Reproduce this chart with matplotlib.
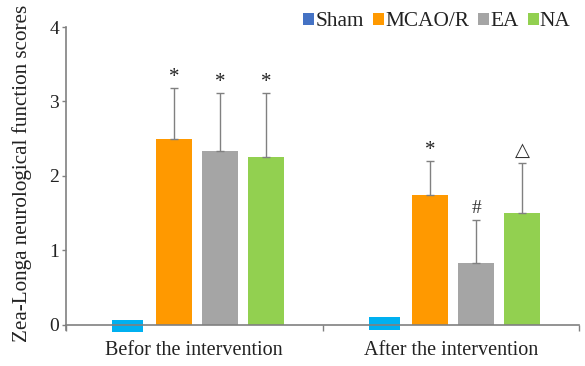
import numpy as np
import matplotlib
matplotlib.use("Agg")
import matplotlib.pyplot as plt
from matplotlib.patches import Patch

plt.rcParams['font.family'] = ['Liberation Serif', 'DejaVu Sans']

# data
groups = ["Befor the intervention", "After the intervention"]
series = ["Sham", "MCAO/R", "EA", "NA"]
sham = [-0.015, 0.015]
mcao = [2.50, 1.75]
ea = [2.33, 0.83]
na = [2.25, 1.50]
mcao_err = [0.68, 0.45]
ea_err = [0.78, 0.58]
na_err = [0.86, 0.68]
marks = [["*", "*", "*"], ["*", "#", "\u25b3"]]

bar_colors = ["#00B0F0", "#FF9900", "#A5A5A5", "#92D050"]
legend_colors = ["#4472C4", "#FF9900", "#A5A5A5", "#92D050"]
err_color = "#808080"
txt = "#222222"

fig = plt.figure(figsize=(5.85, 3.66), dpi=100)
ax = fig.add_axes([66 / 585, 1 - 336 / 366, 513 / 585, 309 / 366])

centers = np.array([1, 3]) + 0.02
pitch = 0.359
w = 0.281

# sham: zero scores shown as a thin block around the axis
ax.bar(centers - 1.5 * pitch, 0.17, width=0.24, bottom=np.array(sham) - 0.085,
       color=bar_colors[0], zorder=2)

vals = [mcao, ea, na]
errs = [mcao_err, ea_err, na_err]
for i, (v, e) in enumerate(zip(vals, errs)):
    x = centers + (i - 0.5) * pitch
    ax.bar(x, v, width=w, color=bar_colors[i + 1], zorder=2)
    ax.errorbar(x, v, yerr=[np.zeros(2), e], fmt="none", ecolor=err_color,
                elinewidth=1, capsize=3, capthick=1, zorder=3)
    for g in range(2):
        m = marks[g][i]
        top = v[g] + e[g]
        if m == "*":
            ax.annotate(m, (x[g], top), xytext=(0, 1), textcoords="offset points",
                        ha="center", va="bottom", fontsize=15, color=txt)
        else:
            ax.annotate(m, (x[g], top), xytext=(0, 2), textcoords="offset points",
                        ha="center", va="bottom", fontsize=14, color="#333333")

ax.set_xlim(0, 4)
ax.set_ylim(-0.15, 4)
ax.set_yticks([0, 1, 2, 3, 4])
ax.set_xticks([1, 3])
ax.set_xticklabels(groups)
ax.set_xticks([0, 1, 2, 3, 4], minor=True)
ax.tick_params(axis="x", which="major", length=0, pad=12, labelsize=14.5, labelcolor=txt)
ax.tick_params(axis="x", which="minor", length=4, color=err_color, width=1)
ax.tick_params(axis="y", length=3, color=err_color, width=1, pad=2,
               labelsize=14, labelcolor=txt)

for s in ["top", "right"]:
    ax.spines[s].set_visible(False)
ax.spines["bottom"].set_position(("data", 0))
ax.spines["bottom"].set_color(err_color)
ax.spines["left"].set_color(err_color)
ax.spines["left"].set_bounds(-0.07, 4)
ax.spines["bottom"].set_linewidth(1.2)
ax.spines["left"].set_linewidth(1.2)

fig.text(22 / 585, 1 - 173 / 366, "Zea-Longa neurological function scores",
         rotation=90, ha="center", va="center", fontsize=15.2, color=txt)

handles = [Patch(facecolor=c, edgecolor="none") for c in legend_colors]
fig.legend(handles, series, loc="center", bbox_to_anchor=(437 / 585, 1 - 22 / 366),
           ncol=4, frameon=False, fontsize=15.3, handlelength=0.5, handleheight=0.5,
           handletextpad=0.05, columnspacing=0.45, borderpad=0,
           labelcolor=txt)

fig.savefig("out.png", dpi=100)
